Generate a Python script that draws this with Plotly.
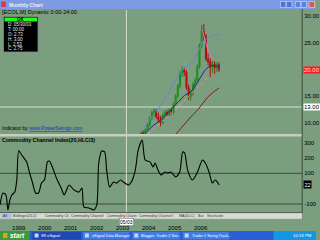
import plotly.graph_objects as go

# ---------------- data ----------------
candle_months = ["2003-09", "2003-10", "2003-11", "2003-12", "2004-01", "2004-02", "2004-03",
                 "2004-04", "2004-05", "2004-06", "2004-07", "2004-08", "2004-09", "2004-10",
                 "2004-11", "2004-12", "2005-01", "2005-02", "2005-03", "2005-04", "2005-05",
                 "2005-06", "2005-07", "2005-08", "2005-09", "2005-10", "2005-11", "2005-12",
                 "2006-01", "2006-02", "2006-03", "2006-04", "2006-05", "2006-06", "2006-07",
                 "2006-08", "2006-09"]
opens = [7.6, 8.2, 7.9, 8.7, 9.6, 10.9, 11.9, 12.3, 11.2, 10.6, 10.0, 11.5, 12.0, 11.6, 12.4,
         11.9, 13.6, 15.1, 17.0, 19.4, 20.0, 19.5, 16.6, 15.0, 15.6, 17.2, 18.0, 20.6, 24.5,
         27.2, 26.3, 22.0, 21.5, 20.4, 21.1, 20.3, 21.0]
highs = [8.4, 8.6, 9.0, 10.0, 11.2, 12.4, 12.8, 12.6, 11.9, 11.3, 11.8, 12.4, 12.5, 12.8, 12.9,
         13.9, 15.4, 17.3, 19.8, 20.6, 20.4, 19.9, 17.2, 16.2, 17.6, 18.5, 21.0, 24.9, 28.4,
         28.6, 26.7, 23.2, 22.2, 21.8, 21.6, 21.4, 21.4]
lows = [7.3, 7.6, 7.7, 8.5, 9.3, 10.5, 11.2, 10.8, 10.1, 9.4, 9.8, 10.9, 11.2, 11.3, 11.5,
        11.7, 13.2, 14.6, 16.5, 18.6, 18.8, 16.2, 14.3, 14.2, 15.1, 16.3, 17.6, 20.2, 24.0,
        25.4, 21.6, 20.8, 18.6, 19.4, 19.2, 19.5, 19.6]
closes = [8.2, 7.9, 8.7, 9.6, 10.9, 11.9, 12.3, 11.2, 10.6, 10.0, 11.5, 12.0, 11.6, 12.4, 11.9,
          13.6, 15.1, 17.0, 19.4, 20.0, 19.5, 16.6, 15.0, 15.6, 17.2, 18.0, 20.6, 24.5, 27.2,
          26.3, 22.0, 21.5, 20.4, 21.1, 20.3, 21.0, 20.0]

# overlay studies (time in decimal years, price)
upper_t = [2003.715, 2003.981, 2004.248, 2004.552, 2004.818, 2005.046, 2005.274, 2005.502,
           2005.730, 2005.920, 2006.072, 2006.263, 2006.491, 2006.719]
upper_v = [8.7, 10.2, 12.0, 13.8, 16.0, 18.2, 19.8, 20.8, 21.6, 23.5, 25.2, 26.0, 26.4, 26.6]
lower_t = [2003.867, 2004.171, 2004.476, 2004.818, 2005.122, 2005.388, 2005.616, 2005.882,
           2006.148, 2006.377, 2006.719]
lower_v = [8.1, 9.5, 10.6, 12.4, 14.0, 15.2, 15.8, 17.6, 19.8, 20.8, 20.6]
long_t = [2005.046, 2005.312, 2005.502, 2005.692, 2005.882, 2006.072, 2006.263, 2006.491, 2006.719]
long_v = [7.9, 9.4, 10.5, 11.5, 12.4, 13.5, 14.8, 15.8, 16.6]
dots_t = [2003.981, 2004.362, 2004.742, 2005.122, 2005.502, 2005.768, 2006.072, 2006.301]
dots_v = [8.0, 9.6, 11.2, 13.0, 14.8, 16.2, 17.6, 18.7]
pink_t = [2006.072, 2006.225, 2006.377, 2006.491]
pink_v = [27.4, 24.6, 22.4, 21.6]

cci_t = [1998.278, 1998.392, 1998.506, 1998.582, 1998.658, 1998.734, 1998.848, 1998.924,
         1999.000, 1999.114, 1999.305, 1999.419, 1999.533, 1999.647, 1999.761, 1999.875,
         1999.989, 2000.103, 2000.179, 2000.293, 2000.483, 2000.635, 2000.749, 2000.939,
         2001.130, 2001.320, 2001.434, 2001.510, 2001.700, 2001.890, 2002.004, 2002.080,
         2002.194, 2002.308, 2002.384, 2002.498, 2002.651, 2002.765, 2002.917, 2003.031,
         2003.221, 2003.335, 2003.487, 2003.601, 2003.753, 2003.867, 2004.057, 2004.171,
         2004.248, 2004.362, 2004.476, 2004.628, 2004.742, 2004.856, 2005.046, 2005.198,
         2005.312, 2005.388, 2005.502, 2005.692, 2005.882, 2006.072, 2006.186, 2006.339,
         2006.453, 2006.567, 2006.719]
cci_v = [-106, -28, -41, -139, -74, -41, -22, 56, 247, 219, 174, 102, 37, -28, -28, 37,
         56, 174, 180, 141, 56, 4, -41, 24, -9, -22, 4, -120, -126, -139, -106, 167,
         245, 239, 121, 11, 43, 37, 56, 43, 24, 43, 121, 252, 317, 187, 174, 141,
         167, 121, 89, 108, 102, 108, 76, 108, 239, 232, 121, 56, 108, 187, 167, 102,
         37, 56, 24]
cci_levels = [100, -100]

price_ticks = [10, 15, 20, 25, 30]
cci_ticks = [300, 200, 100, -100]
year_ticks = [1999, 2000, 2001, 2002, 2003, 2004, 2005, 2006]
cursor_t = 2003.145
cursor_price = 13.0

info_lines = ["D: 05/30/03", "T: 00:00", "O: 2.73", "H: 3.00", "L: 2.53", "C: 2.75"]
tabs = ["All", "Bollinger(20,2)", "Commodity Ch", "Commodity Channel", "Commodity Chann",
        "Commodity Channel I", "MA(50,C)", "Bar", "Stochastic"]
task_buttons = ["SR eSignal", "eSignal Data Manager", "Blogger: Trader 2 Swi...",
                "Trader 2 Swing Track..."]

# ---------------- helpers ----------------
W, H = 320, 240
def PX(x):
    return x / W
def PY(y):
    return 1 - y / H

def month_to_t(s):
    y, m = s.split("-")
    return int(y) + (int(m) - 0.5) / 12

candle_t = [month_to_t(s) for s in candle_months]

GREEN = "#7a9e7e"
FONT = "Liberation Sans"

fig = go.Figure()

fig.add_trace(go.Scatter(x=long_t, y=long_v, mode="lines",
                         line=dict(color="#8a1c14", width=1), xaxis="x", yaxis="y"))
fig.add_trace(go.Scatter(x=dots_t, y=dots_v, mode="lines",
                         line=dict(color="#e89a86", width=1, dash="dot"), xaxis="x", yaxis="y"))
fig.add_trace(go.Scatter(x=upper_t, y=upper_v, mode="lines",
                         line=dict(color="#6d82d6", width=1), xaxis="x", yaxis="y"))
fig.add_trace(go.Scatter(x=lower_t, y=lower_v, mode="lines",
                         line=dict(color="#1c2a9c", width=1), xaxis="x", yaxis="y"))
fig.add_trace(go.Candlestick(x=candle_t, open=opens, high=highs, low=lows, close=closes,
                             increasing=dict(line=dict(color="#1e8a1e", width=1),
                                             fillcolor="#00d000"),
                             decreasing=dict(line=dict(color="#b01010", width=1),
                                             fillcolor="#e80000"),
                             whiskerwidth=0, xaxis="x", yaxis="y"))
fig.add_trace(go.Scatter(x=pink_t, y=pink_v, mode="lines",
                         line=dict(color="#d27cc8", width=1), xaxis="x", yaxis="y"))
fig.add_trace(go.Scatter(x=cci_t, y=cci_v, mode="lines",
                         line=dict(color="#000000", width=1.1, shape="spline", smoothing=0.7),
                         xaxis="x2", yaxis="y2"))

xr = [1998.278, 1998.278 + 306 / 26.3]
xdom = [0, PX(306)]

shapes = []
def rect(x0, y0, x1, y1, fill, line=None, lw=0, layer="above"):
    shapes.append(dict(type="rect", xref="paper", yref="paper", x0=PX(x0), x1=PX(x1),
                       y0=PY(y1), y1=PY(y0), fillcolor=fill,
                       line=dict(color=line or fill, width=lw), layer=layer))
def hline(x0, x1, y, color, w=1, layer="above"):
    shapes.append(dict(type="line", xref="paper", yref="paper", x0=PX(x0), x1=PX(x1),
                       y0=PY(y), y1=PY(y), line=dict(color=color, width=w), layer=layer))

# panel chrome
rect(0, 134, 306, 136.5, "#c6cebe")
hline(0, 306, 212.5, "#3e4a3e")
shapes.append(dict(type="line", xref="paper", yref="paper", x0=PX(306), x1=PX(306),
                   y0=PY(219), y1=PY(9), line=dict(color="#3e4e3e", width=1)))
for lv in cci_levels:
    shapes.append(dict(type="line", xref="paper", yref="y2", x0=0, x1=PX(306), y0=lv, y1=lv,
                       line=dict(color="#3e4a3e", width=1), layer="below"))
# crosshair
shapes.append(dict(type="line", xref="x", yref="paper", x0=cursor_t, x1=cursor_t,
                   y0=PY(213), y1=PY(10), line=dict(color="#d4ddd2", width=1), layer="below"))
shapes.append(dict(type="line", xref="paper", yref="y", x0=0, x1=PX(306), y0=cursor_price,
                   y1=cursor_price, line=dict(color="#d4ddd2", width=1), layer="below"))
# tab strip
rect(0, 213, 306, 219, "#d6dbd0", "#a2aa9c", 0.5)
rect(1, 213.5, 12, 218.5, "#a9bfe6")
# title bar
rect(0, 0, 320, 9, "#7c9be2")
rect(1, 1.5, 6, 7, "#d84040")
for bx, col in [(284, "#4d74d8"), (290, "#4d74d8"), (299, "#5a82e0"), (305, "#5a82e0"),
                (313, "#d45a4a")]:
    rect(bx, 1.5, bx + 5.5, 7.5, col, "#e8eeff", 0.5)
# data box
rect(3.5, 16.5, 38.5, 52, "#000000", "#8a8a8a", 0.8)
rect(4.5, 17.5, 37.5, 21.5, "#19ff19")
# taskbar
rect(0, 231, 320, 240, "#2a5ed6")
rect(0, 231, 30, 240, "#3a9a3c")
rect(3, 233, 7.5, 238, "#e0a020")
bxs = [(33, 82), (84, 131), (134, 182), (185, 232)]
for i, (a, b) in enumerate(bxs):
    rect(a, 232, b, 239.5, "#1d47b4" if i == 0 else "#3f7ce6")
    rect(a + 2, 233.5, a + 6, 237.5, "#c8d8f0")
rect(277, 231, 320, 240, "#1197e6")

ann = []
def text(x, y, s, size=5, color="#000000", anchor="left", bg=None, bold=False):
    d = dict(xref="paper", yref="paper", x=PX(x), y=PY(y), text=("<b>%s</b>" % s if bold else s),
             showarrow=False, xanchor=anchor, yanchor="middle",
             font=dict(size=size, color=color, family=FONT), borderpad=0)
    if bg:
        d["bgcolor"] = bg
    ann.append(d)

text(8, 4.5, "Monthly Chart", 5, "#eef2ff", bold=True)
text(1, 12, "[ECOL,M] Dynamic 0:00-24:00", 5.5, "#000000")
text(21, 19.5, "OK", 4.5, "#000000", anchor="center", bold=True)
for i, s in enumerate(info_lines):
    text(7, 24.5 + i * 4.9, s, 4.5, "#e8e8e8")
text(1, 128, "Indicator by <span style='color:#1a2ad0'><u>www.PowerSwings.com</u></span>",
     5, "#000000")
text(1, 139.5, "Commodity Channel Index(20,HLC/3)", 5.3, "#000000", bold=True)
# tab labels
tx = 2
for i, s in enumerate(tabs):
    text(tx, 216, s, 3.6, "#303840")
    tx += 4 + len(s) * 1.9
# right axis special labels
ann.append(dict(xref="paper", yref="y", x=PX(307), y=closes[-1], text="20.00", showarrow=False,
                xanchor="left", yanchor="middle", bgcolor="#ff1a1a", borderpad=0,
                font=dict(size=6, color="#ffe0e0", family=FONT)))
ann.append(dict(xref="paper", yref="y", x=PX(307), y=cursor_price, text="13.00", showarrow=False,
                xanchor="left", yanchor="middle", bgcolor="#ffffff", borderpad=0,
                font=dict(size=6, color="#000000", family=FONT)))
ann.append(dict(xref="paper", yref="y2", x=PX(307), y=cci_v[-1], text="22", showarrow=False,
                xanchor="left", yanchor="middle", bgcolor="#000000", borderpad=0.5,
                font=dict(size=5.5, color="#ffffff", family=FONT)))
ann.append(dict(xref="x", yref="paper", x=cursor_t, y=PY(222), text="05/03", showarrow=False,
                xanchor="center", yanchor="middle", bgcolor="#ffffff", borderpad=0.5,
                bordercolor="#606060", borderwidth=0.5,
                font=dict(size=5, color="#000000", family=FONT)))
# taskbar texts
text(9.5, 235.5, "<i>start</i>", 6.5, "#ffffff", bold=True)
for (a, b), s in zip(bxs, task_buttons):
    text(a + 8, 235.8, s, 3.8, "#ffffff")
text(306, 235.5, "10:13 PM", 4.3, "#ffffff", anchor="center")

fig.update_layout(
    width=W, height=H, autosize=False, margin=dict(l=0, r=0, t=0, b=0),
    paper_bgcolor=GREEN, plot_bgcolor=GREEN, showlegend=False, hovermode=False,
    font=dict(family=FONT, size=6, color="#000000"),
    xaxis=dict(domain=xdom, range=xr, anchor="y", showticklabels=False, showgrid=False,
               zeroline=False, showline=False, ticks="", rangeslider=dict(visible=False)),
    yaxis=dict(domain=[PY(134), PY(10)], range=[7.94, 31.19], anchor="x", side="right",
               tickvals=price_ticks, ticktext=["%.2f" % v for v in price_ticks],
               showgrid=False, zeroline=False, showline=False, ticks="",
               tickfont=dict(size=6, color="#000000"), ticklabelstandoff=1),
    xaxis2=dict(domain=xdom, range=xr, anchor="y2", matches="x", showgrid=False,
                zeroline=False, showline=False, ticks="", tickvals=year_ticks,
                ticktext=[str(y) for y in year_ticks], ticklabelstandoff=11,
                tickfont=dict(size=6, color="#000000", family=FONT)),
    yaxis2=dict(domain=[PY(212), PY(137)], range=[-152, 336.5], anchor="x2", side="right",
                tickvals=cci_ticks, ticktext=[str(v) for v in cci_ticks],
                showgrid=False, zeroline=False, showline=False, ticks="",
                tickfont=dict(size=6, color="#000000"), ticklabelstandoff=1),
    shapes=shapes, annotations=ann,
)

fig.write_html("out.html")
